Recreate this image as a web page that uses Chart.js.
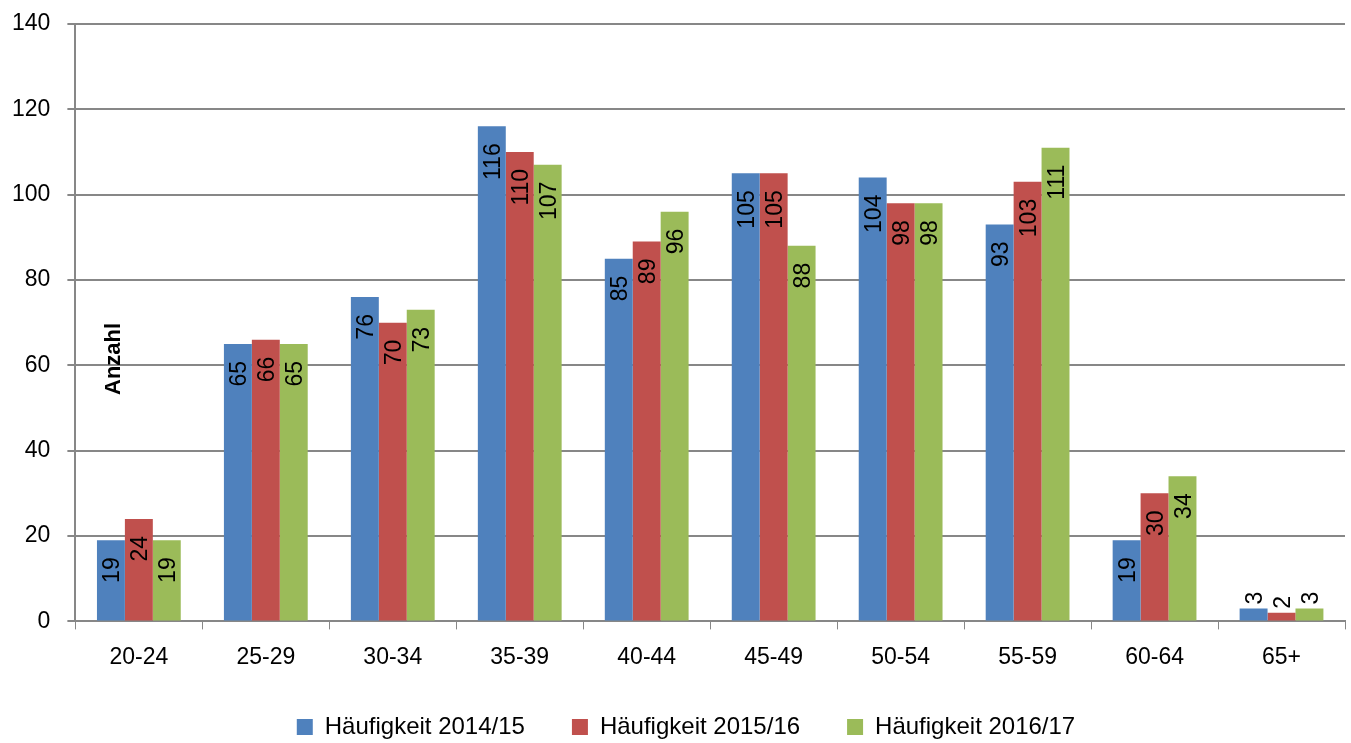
<!DOCTYPE html>
<html>
<head>
<meta charset="utf-8">
<script src="https://cdn.jsdelivr.net/npm/chart.js@4/dist/chart.umd.min.js"></script>
<style>
  html, body { margin: 0; padding: 0; background: #fff; }
  #wrap { width: 1351px; height: 743px; }
</style>
</head>
<body>
<div id="wrap"><canvas id="chart"></canvas></div>
<script>
const ageGroups = ["20-24", "25-29", "30-34", "35-39", "40-44", "45-49", "50-54", "55-59", "60-64", "65+"];
const freq2014 = [19, 65, 76, 116, 85, 105, 104, 93, 19, 3];
const freq2015 = [24, 66, 70, 110, 89, 105, 98, 103, 30, 2];
const freq2016 = [19, 65, 73, 107, 96, 88, 98, 111, 34, 3];
const seriesLabels = ["Häufigkeit 2014/15", "Häufigkeit 2015/16", "Häufigkeit 2016/17"];
const seriesColors = ["#4F81BD", "#C0504D", "#9BBB59"];

const FONT = "'Liberation Sans', Arial, sans-serif";
const FONT_SIZE = 23;
const GRID = "#878787";
const LEGEND_GAP = 47;
const LEGEND_TRIM = 17;
const LEGEND_SHIFT = 16;

// rotated value labels: inside the top of the bar, or above it when the bar is too short
const barLabels = {
  id: "barLabels",
  afterDatasetsDraw(chart) {
    const ctx = chart.ctx;
    ctx.save();
    ctx.font = FONT_SIZE + "px " + FONT;
    ctx.fillStyle = "#000";
    ctx.textBaseline = "middle";
    chart.data.datasets.forEach((ds, i) => {
      const meta = chart.getDatasetMeta(i);
      meta.data.forEach((bar, j) => {
        const text = String(ds.data[j]);
        const w = ctx.measureText(text).width;
        const h = bar.base - bar.y;
        ctx.save();
        if (h > w + 24) {
          ctx.translate(bar.x + 2, bar.y + 17);
          ctx.rotate(-Math.PI / 2);
          ctx.textAlign = "right";
        } else {
          ctx.translate(bar.x + 2, bar.y - 4);
          ctx.rotate(-Math.PI / 2);
          ctx.textAlign = "left";
        }
        ctx.fillText(text, 0, 0);
        ctx.restore();
      });
    });
    ctx.restore();
  },
};

const axisTitle = {
  id: "axisTitle",
  afterDraw(chart) {
    const ctx = chart.ctx;
    const area = chart.chartArea;
    const y = chart.scales.y.getPixelForValue(61.5);
    ctx.save();
    ctx.font = "bold 22px " + FONT;
    ctx.fillStyle = "#000";
    ctx.textAlign = "center";
    ctx.textBaseline = "middle";
    ctx.translate(area.left + 39, y);
    ctx.rotate(-Math.PI / 2);
    ctx.fillText("Anzahl", 0, 0);
    ctx.restore();
  },
};

// legend padding sets both the item spacing and the gap above it;
// keep the wide item spacing but take back part of the vertical gap
const legendGap = {
  id: "legendGap",
  beforeLayout(chart) {
    const lg = chart.legend;
    if (lg && !lg._gapPatched) {
      const fit = lg.fit.bind(lg);
      lg.fit = function () {
        fit();
        this.height -= LEGEND_TRIM;
      };
      lg._gapPatched = true;
    }
  },
  afterLayout(chart) {
    const lg = chart.legend;
    if (lg) {
      lg.top -= LEGEND_TRIM;
      lg.left += LEGEND_SHIFT;
      lg.right += LEGEND_SHIFT;
    }
  },
};

new Chart(document.getElementById("chart"), {
  type: "bar",
  data: {
    labels: ageGroups,
    datasets: [freq2014, freq2015, freq2016].map((values, i) => ({
      label: seriesLabels[i],
      data: values,
      backgroundColor: seriesColors[i],
      borderWidth: 0,
      categoryPercentage: 0.66,
      barPercentage: 1.0,
    })),
  },
  options: {
    responsive: true,
    maintainAspectRatio: false,
    animation: false,
    layout: { padding: { top: 2, right: 6, bottom: -6, left: -5 } },
    plugins: {
      tooltip: { enabled: false },
      legend: {
        position: "bottom",
        labels: {
          font: { family: FONT, size: 24 },
          color: "#000",
          boxWidth: 16,
          boxHeight: 16,
          padding: LEGEND_GAP,
        },
      },
    },
    scales: {
      x: {
        offset: true,
        grid: { offset: true, drawOnChartArea: false, drawTicks: true, tickLength: 8, color: GRID, tickColor: GRID },
        border: { color: GRID, width: 2 },
        ticks: { font: { family: FONT, size: FONT_SIZE }, color: "#000", padding: 14, maxRotation: 0 },
      },
      y: {
        min: 0,
        max: 140,
        grid: { color: GRID, lineWidth: 2, tickLength: 8, tickColor: GRID },
        border: { color: GRID, width: 2 },
        ticks: { stepSize: 20, font: { family: FONT, size: FONT_SIZE, lineHeight: 0.6 }, color: "#000", padding: 17 },
      },
    },
  },
  plugins: [barLabels, axisTitle, legendGap],
});
</script>
</body>
</html>
